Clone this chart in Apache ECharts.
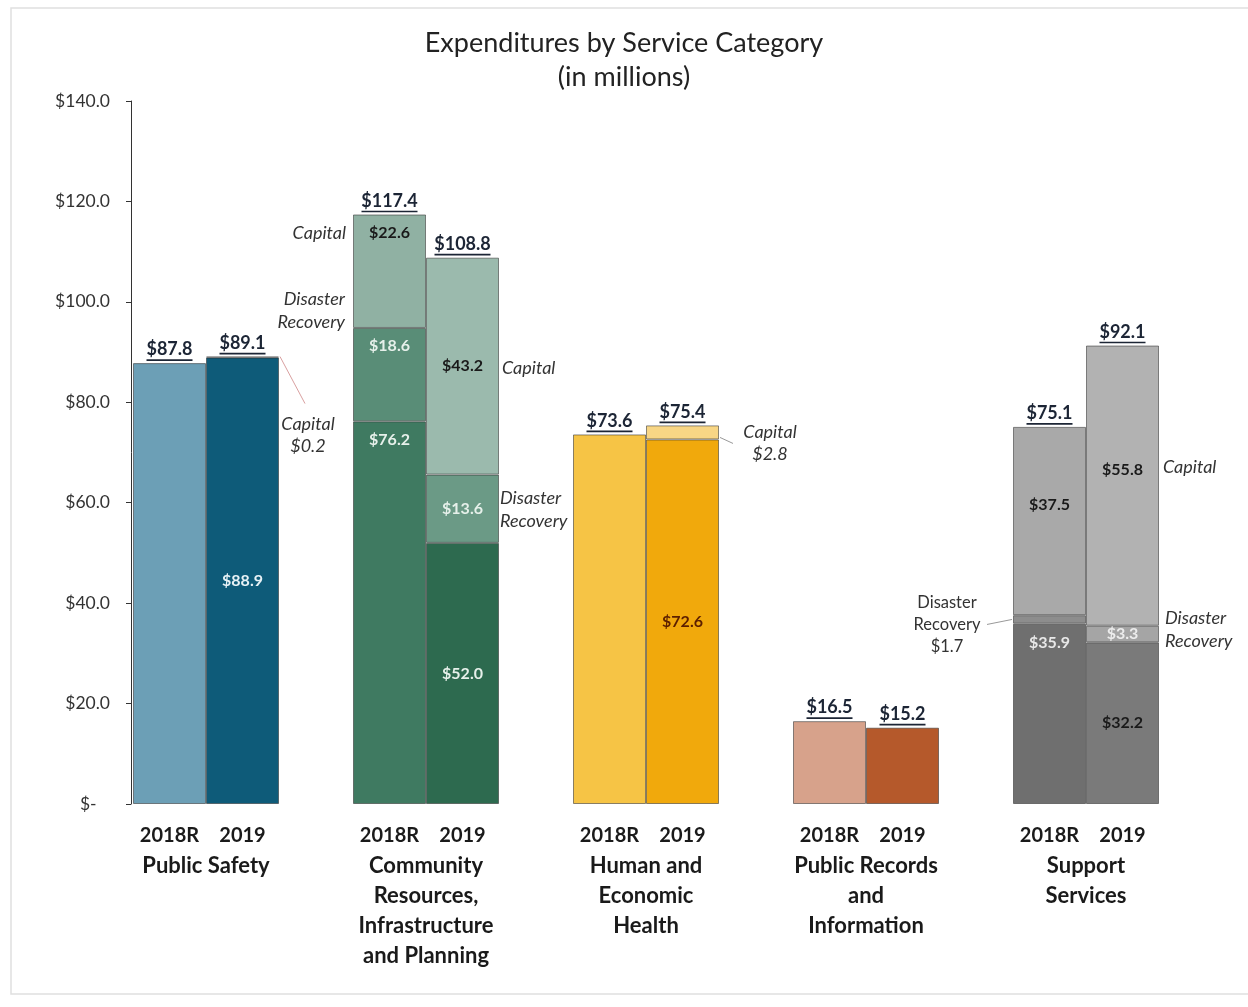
<!DOCTYPE html>
<html>
<head>
<meta charset="utf-8">
<title>Expenditures by Service Category</title>
<script src="https://cdn.jsdelivr.net/npm/echarts@6/dist/echarts.min.js"></script>
<style>
  html, body { margin: 0; padding: 0; background: #ffffff; }
  #chart { width: 1248px; height: 1007px; }
</style>
</head>
<body>
<div id="chart"></div>
<script>
// ---- data (millions of dollars) ----
const categories = [
  'Public Safety',
  'Community\nResources,\nInfrastructure\nand Planning',
  'Human and\nEconomic\nHealth',
  'Public Records\nand\nInformation',
  'Support\nServices'
];
const years = ['2018R', '2019'];

const operating2018 = [87.8, 76.2, 73.6, 16.5, 35.9];
const disaster2018  = [null, 18.6, null, null, 1.7];
const capital2018   = [null, 22.6, null, null, 37.5];

const operating2019 = [88.9, 52.0, 72.6, 15.2, 32.2];
const disaster2019  = [null, 13.6, null, null, 3.3];
const capital2019   = [0.2, 43.2, 2.8, null, 55.8];

const total2018 = [87.8, 117.4, 73.6, 16.5, 75.1];
const total2019 = [89.1, 108.8, 75.4, 15.2, 92.1];

const yMin = 0, yMax = 140, yStep = 20;

// ---- styling ----
const FONT = 'Lato, "Open Sans", sans-serif';
const BAR_W = 73;
const segmentNames = ['Operating', 'Disaster Recovery', 'Capital'];
const segmentValues = [
  [operating2018, disaster2018, capital2018],
  [operating2019, disaster2019, capital2019]
];
const totals = [total2018, total2019];

// fill[group][year][segment]
const fill = [
  [['#6c9fb6', null, null], ['#0e5b79', null, '#0e5b79']],
  [['#3f7a61', '#598d77', '#90b1a3'], ['#2d6a4f', '#6b9a86', '#9bbaad']],
  [['#f6c445', null, null], ['#f1a90c', null, '#f8d685']],
  [['#d7a28b', null, null], ['#b5592b', null, null]],
  [['#6f6f6f', '#8d8d8d', '#a9a9a9'], ['#7a7a7a', '#a5a5a5', '#b2b2b2']]
];
const labelInk = [
  [[null, null, null], ['#e8f2f6', null, null]],
  [['#e6f0ea', '#e6f0ea', '#1a1a1a'], ['#e6f0ea', '#e6f0ea', '#1a1a1a']],
  [[null, null, null], ['#5c1f00', null, null]],
  [[null, null, null], [null, null, null]],
  [['#e8e8e8', null, '#1a1a1a'], ['#1a1a1a', '#ececec', '#1a1a1a']]
];

function money(v) { return '$' + v.toFixed(1); }

function segmentCount(g, yi) {
  return segmentValues[yi].filter(arr => arr[g] != null).length;
}

function insideLabel(g, yi, si, v) {
  const ink = labelInk[g][yi][si];
  const show = ink != null && segmentCount(g, yi) > 1 && v >= 3;
  const lab = {
    show: show,
    formatter: money(v),
    color: ink || '#000',
    fontFamily: FONT,
    fontWeight: 'bold',
    fontSize: 16,
    position: 'inside'
  };
  if (g === 1 && yi === 0) { lab.position = 'insideTop'; lab.distance = 10; }
  if (g === 4 && si === 2) { lab.offset = [0, -16]; }
  if (g === 4 && yi === 0 && si === 0) { lab.position = 'insideTop'; lab.distance = 11; }
  return lab;
}

// stack ids are prefixed so that they are not integer-like keys (keeps 2018R left of 2019)
const stackId = yr => 'year-' + yr;

const series = [];
years.forEach((yr, yi) => {
  segmentValues[yi].forEach((arr, si) => {
    series.push({
      type: 'bar',
      name: yr + ' ' + segmentNames[si],
      stack: stackId(yr),
      barWidth: BAR_W,
      barGap: '0%',
      itemStyle: { borderColor: 'rgba(45,45,45,0.55)', borderWidth: 1 },
      data: arr.map((v, g) => v == null ? null : {
        value: v,
        itemStyle: { color: fill[g][yi][si] },
        label: insideLabel(g, yi, si, v)
      }),
      z: 2
    });
  });
  // zero-height cap on each stack carrying the underlined total
  series.push({
    type: 'bar',
    name: yr + ' Total',
    stack: stackId(yr),
    barWidth: BAR_W,
    barGap: '0%',
    itemStyle: { color: 'transparent', borderWidth: 0 },
    data: totals[yi].map(() => 0),
    label: {
      show: true,
      position: 'top',
      distance: 2,
      formatter: p => {
        const t = money(totals[yi][p.dataIndex]);
        return '{t|' + t + '}\n{u' + t.length + '|}';
      },
      rich: {
        t: { fontFamily: FONT, fontWeight: 'bold', fontSize: 18, color: '#1c2535', lineHeight: 19, align: 'center' },
        u5: { width: 46, height: 1.6, lineHeight: 2, backgroundColor: '#1c2535', align: 'center' },
        u6: { width: 56, height: 1.6, lineHeight: 2, backgroundColor: '#1c2535', align: 'center' }
      }
    },
    z: 3
  });
});

// ---- side annotations (segment names beside bars) ----
const notes = [
  { g: 0, yi: 1, si: 2, kind: 'leaderDown', withValue: true },
  { g: 1, yi: 0, si: 2, kind: 'leftTop' },
  { g: 1, yi: 0, si: 1, kind: 'leftAbove' },
  { g: 1, yi: 1, si: 2, kind: 'right', dy: 2, dx: 3 },
  { g: 1, yi: 1, si: 1, kind: 'right', dy: 1, dx: 1 },
  { g: 2, yi: 1, si: 2, kind: 'leaderRight', withValue: true },
  { g: 4, yi: 0, si: 1, kind: 'leaderLeft', withValue: true },
  { g: 4, yi: 1, si: 2, kind: 'right', dy: -18, dx: 4 },
  { g: 4, yi: 1, si: 1, kind: 'right', dy: -4, dx: 6 }
];

function segmentRange(g, yi, si) {
  let low = 0;
  for (let k = 0; k < si; k++) {
    const v = segmentValues[yi][k][g];
    if (v != null) low += v;
  }
  return [low, low + segmentValues[yi][si][g]];
}

function renderNote(params, api) {
  const n = notes[params.dataIndex];
  const center = api.coord([n.g, 0]);
  const left = n.yi === 0 ? center[0] - BAR_W : center[0];
  const right = left + BAR_W;
  const [lo, hi] = segmentRange(n.g, n.yi, n.si);
  const yLo = api.coord([n.g, lo])[1];
  const yHi = api.coord([n.g, hi])[1];
  const mid = (yLo + yHi) / 2;
  const v = segmentValues[n.yi][n.si][n.g];
  const name = n.si === 2 ? 'Capital' : 'Disaster\nRecovery';
  const text = n.withValue ? name + '\n' + money(v) : name;
  const italic = 'italic 18px ' + FONT;
  const upright = '16.5px ' + FONT;
  const ink = '#333333';
  const kids = [];
  const addText = (x, y, align, font, lh) => kids.push({
    type: 'text',
    style: { text: text, x: x, y: y, align: align, verticalAlign: 'middle', font: font, fill: ink, lineHeight: lh }
  });
  const addLine = (x1, y1, x2, y2, color) => kids.push({
    type: 'line',
    shape: { x1: x1, y1: y1, x2: x2, y2: y2 },
    style: { stroke: color, lineWidth: 1 }
  });
  switch (n.kind) {
    case 'leaderDown':
      addLine(right + 1, yHi, right + 26, yHi + 47, '#d9a0a0');
      addText(right + 29, yHi + 79, 'center', italic, 22);
      break;
    case 'leftTop':
      addText(left - 7, yHi + 19, 'right', italic, 22);
      break;
    case 'leftAbove':
      addText(left - 8, yHi - 17, 'right', italic, 23);
      break;
    case 'right':
      addText(right + n.dx, mid + n.dy, 'left', italic, 23);
      break;
    case 'leaderRight':
      addLine(right + 1, yLo - 2, right + 14, yLo + 4, '#999999');
      addText(right + 51, yLo + 4, 'center', italic, 22);
      break;
    case 'leaderLeft':
      addLine(left - 26, mid + 5, left - 1, mid, '#999999');
      addText(left - 66, mid + 5, 'center', upright, 22);
      break;
  }
  return { type: 'group', children: kids };
}

series.push({
  type: 'custom',
  name: 'notes',
  coordinateSystem: 'cartesian2d',
  clip: false,
  silent: true,
  z: 5,
  data: notes.map(n => [n.g, 0]),
  renderItem: renderNote
});

const chart = echarts.init(document.getElementById('chart'), null, { renderer: 'canvas' });
chart.setOption({
  backgroundColor: '#ffffff',
  animation: false,
  textStyle: { fontFamily: FONT },
  title: {
    text: 'Expenditures by Service Category\n(in millions)',
    left: 'center',
    top: 21,
    textStyle: { fontFamily: FONT, fontSize: 27, fontWeight: 'normal', color: '#222222', lineHeight: 34 }
  },
  graphic: [{
    type: 'rect',
    shape: { x: 11, y: 8, width: 1250, height: 986 },
    style: { fill: 'none', stroke: '#e0e0e0', lineWidth: 1.5 },
    silent: true,
    z: -1
  }],
  grid: { left: 96, right: 52, top: 101, bottom: 203 },
  xAxis: {
    type: 'category',
    data: categories,
    axisLine: { show: false },
    axisTick: { show: false },
    axisLabel: {
      interval: 0,
      margin: 17,
      formatter: v => '{yr|' + years[0] + '}{yr|' + years[1] + '}\n' +
        v.split('\n').map(l => '{nm|' + l + '}').join('\n'),
      rich: {
        yr: { width: BAR_W, align: 'center', fontFamily: FONT, fontWeight: 'bold', fontSize: 20, color: '#1a1a1a', lineHeight: 30 },
        nm: { align: 'center', fontFamily: FONT, fontWeight: 'bold', fontSize: 22, color: '#1a1a1a', lineHeight: 30 }
      }
    }
  },
  yAxis: {
    type: 'value',
    min: yMin,
    max: yMax,
    interval: yStep,
    offset: -35,
    axisLine: { show: true, lineStyle: { color: '#333333', width: 1 } },
    axisTick: { show: true, inside: false, length: 5, lineStyle: { color: '#333333' } },
    splitLine: { show: false },
    axisLabel: {
      margin: 21,
      fontFamily: FONT,
      fontSize: 17.5,
      color: '#333333',
      formatter: v => v === 0 ? '$-   ' : money(v)
    }
  },
  series: series
});
</script>
</body>
</html>
